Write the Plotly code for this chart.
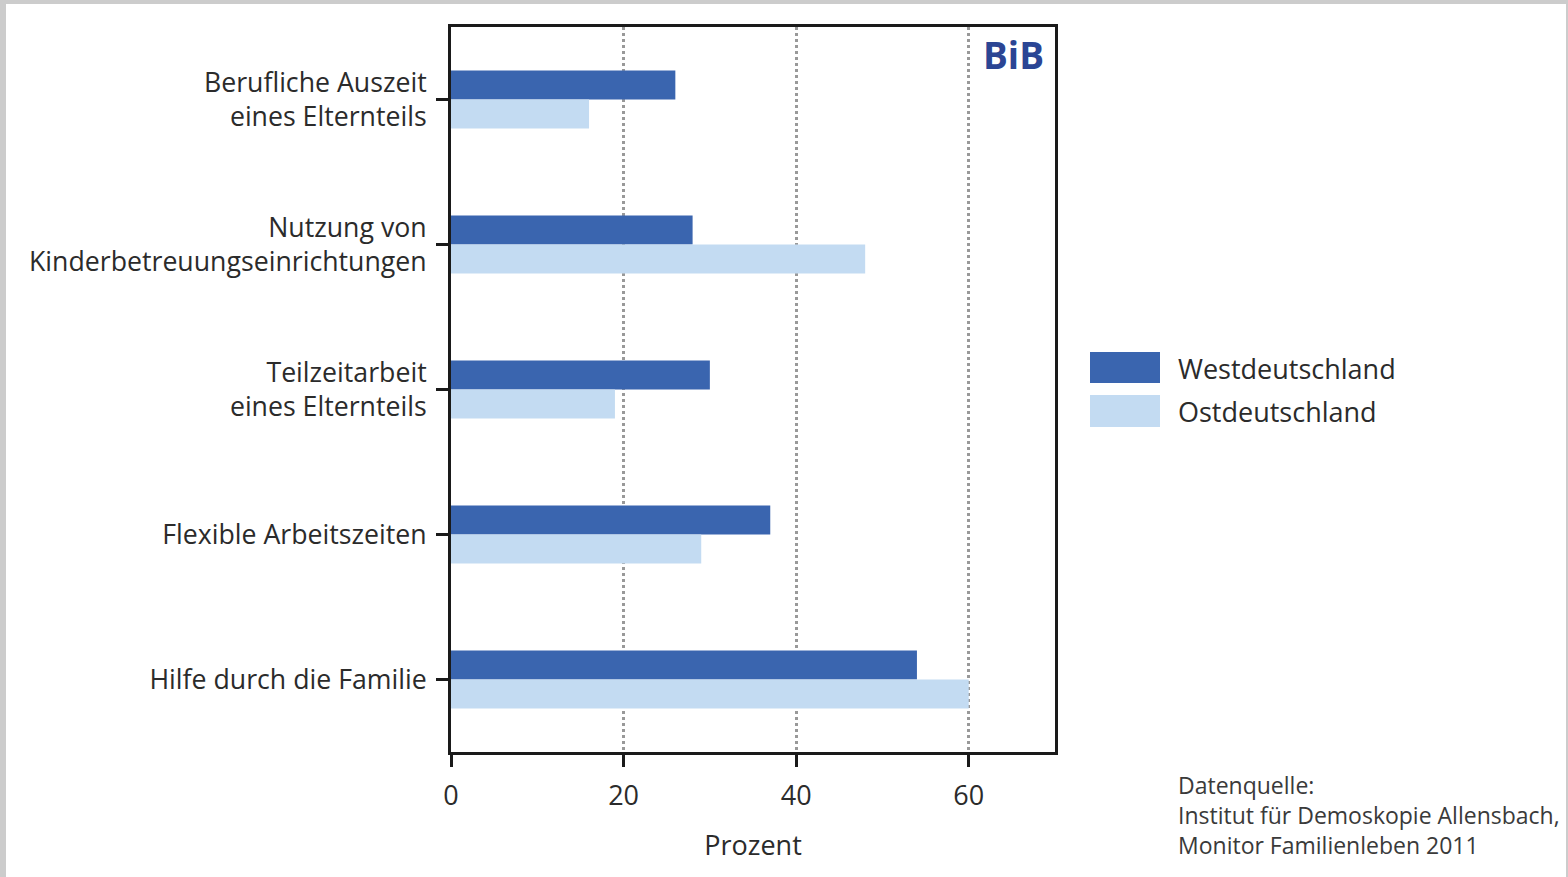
import plotly.graph_objects as go

# Survey data: share of respondents (percent) per measure
categories = [
    "Berufliche Auszeit<br>eines Elternteils",
    "Nutzung von<br>Kinderbetreuungseinrichtungen",
    "Teilzeitarbeit<br>eines Elternteils",
    "Flexible Arbeitszeiten",
    "Hilfe durch die Familie",
]
west = [26, 28, 30, 37, 54]
east = [16, 48, 19, 29, 60]
series_names = ["Westdeutschland", "Ostdeutschland"]
x_ticks = [0, 20, 40, 60]

WEST_COLOR = "#3A65AF"
EAST_COLOR = "#C3DBF2"
TEXT_COLOR = "#2b2b2b"
FONT = "Open Sans"

W, H = 1568, 877
L, R, T, B = 451, 1055, 27, 752  # plot area in pixels


def px(x):
    return (x - L) / (R - L)


def py(y):
    return (B - y) / (B - T)


fig = go.Figure()
fig.add_trace(go.Bar(y=categories, x=west, orientation="h", name=series_names[0],
                     marker=dict(color=WEST_COLOR, line=dict(width=0))))
fig.add_trace(go.Bar(y=categories, x=east, orientation="h", name=series_names[1],
                     marker=dict(color=EAST_COLOR, line=dict(width=0))))

shapes = [
    # page frame
    dict(type="rect", xref="paper", yref="paper", x0=px(6), x1=px(1566), y0=py(4), y1=py(900),
         fillcolor="white", line=dict(width=0), layer="below"),
    # legend swatches
    dict(type="rect", xref="paper", yref="paper", x0=px(1090), x1=px(1160), y0=py(352), y1=py(383),
         fillcolor=WEST_COLOR, line=dict(width=0)),
    dict(type="rect", xref="paper", yref="paper", x0=px(1090), x1=px(1160), y0=py(395), y1=py(427),
         fillcolor=EAST_COLOR, line=dict(width=0)),
]

annotations = [
    dict(text="<b>BiB</b>", xref="paper", yref="paper", x=px(1046), y=py(55),
         xanchor="right", yanchor="middle", showarrow=False,
         font=dict(family=FONT, size=37, color="#2B4594")),
    dict(text=series_names[0], xref="paper", yref="paper", x=px(1176), y=py(368),
         xanchor="left", yanchor="middle", showarrow=False,
         font=dict(family=FONT, size=27, color=TEXT_COLOR)),
    dict(text=series_names[1], xref="paper", yref="paper", x=px(1176), y=py(411),
         xanchor="left", yanchor="middle", showarrow=False,
         font=dict(family=FONT, size=27, color=TEXT_COLOR)),
    dict(text="Datenquelle:<br>Institut für Demoskopie Allensbach,<br>Monitor Familienleben 2011",
         xref="paper", yref="paper", x=px(1176), y=py(767), xanchor="left", yanchor="top",
         align="left", showarrow=False,
         font=dict(family=FONT, size=23, color="#3a3a3a")),
]

fig.update_layout(
    width=W, height=H,
    margin=dict(l=L, r=W - R, t=T, b=H - B, pad=0),
    paper_bgcolor="#cccccc",
    plot_bgcolor="white",
    barmode="group",
    bargap=0.6,
    bargroupgap=0,
    showlegend=False,
    font=dict(family=FONT, size=26, color=TEXT_COLOR),
    shapes=shapes,
    annotations=annotations,
    xaxis=dict(
        range=[0, 70], tickvals=x_ticks, ticktext=[str(v) for v in x_ticks],
        showline=True, linecolor="#1a1a1a", linewidth=3, mirror=True,
        ticks="outside", ticklen=12, tickwidth=3, tickcolor="#1a1a1a",
        showgrid=True, gridcolor="#999999", gridwidth=3, griddash="dot",
        zeroline=False,
        tickfont=dict(family=FONT, size=27, color=TEXT_COLOR),
        ticklabelstandoff=6,
        title=dict(text="Prozent", standoff=24, font=dict(family=FONT, size=27, color=TEXT_COLOR)),
    ),
    yaxis=dict(
        categoryorder="array", categoryarray=categories, autorange="reversed",
        showline=True, linecolor="#1a1a1a", linewidth=3, mirror=True,
        ticks="outside", ticklen=12, tickwidth=3, tickcolor="#1a1a1a",
        showgrid=False, zeroline=False,
        tickfont=dict(family=FONT, size=26.7, color=TEXT_COLOR),
        ticklabelstandoff=4,
    ),
)

fig.write_html("out.html")
